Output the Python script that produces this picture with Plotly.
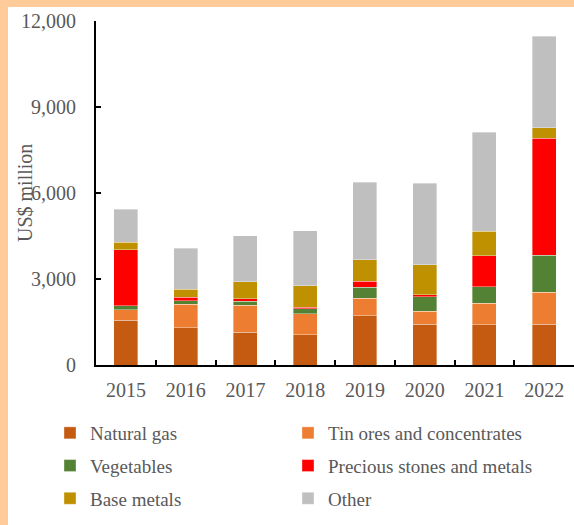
import plotly.graph_objects as go

years = ["2015", "2016", "2017", "2018", "2019", "2020", "2021", "2022"]
natural_gas = [1560, 1300, 1150, 1060, 1720, 1420, 1405, 1420]
tin_ores = [370, 815, 930, 720, 605, 455, 755, 1115]
vegetables = [140, 125, 140, 175, 395, 500, 570, 1290]
precious = [1950, 130, 90, 60, 210, 80, 1080, 4080]
base_metals = [270, 280, 595, 745, 745, 1035, 850, 370]
other = [1140, 1420, 1605, 1920, 2700, 2850, 3455, 3200]

series = [
    ("Natural gas", natural_gas, "#C55A11", "legend"),
    ("Tin ores and concentrates", tin_ores, "#ED7D31", "legend2"),
    ("Vegetables", vegetables, "#548235", "legend"),
    ("Precious stones and metals", precious, "#FF0000", "legend2"),
    ("Base metals", base_metals, "#BF9000", "legend"),
    ("Other", other, "#BFBFBF", "legend2"),
]

FONT = "Liberation Serif"
GREY = "#595959"

fig = go.Figure()
for i, (name, vals, color, lg) in enumerate(series):
    fig.add_trace(go.Bar(
        x=years, y=vals, name=name, legend=lg, legendgroup=f"g{i}",
        marker=dict(color=color, line=dict(color="rgba(255,255,255,0.6)", width=0.6)),
    ))

W, H = 574, 525
L, T, B = 96, 21, 160
pw = W - L
ph = H - T - B

def px2x(p):
    return (p - L) / pw

def py2y(p):
    return (H - B - p) / ph

border = "#FFCC99"
shapes = [
    dict(type="rect", xref="paper", yref="paper", x0=px2x(-2), x1=px2x(8),
         y0=py2y(H + 2), y1=py2y(-2), fillcolor=border, line=dict(width=0), layer="above"),
    dict(type="rect", xref="paper", yref="paper", x0=px2x(-2), x1=px2x(W + 2),
         y0=py2y(7), y1=py2y(-2), fillcolor=border, line=dict(width=0), layer="above"),
]

legend_common = dict(
    orientation="v", xref="container", yref="container", xanchor="left", yanchor="top",
    bgcolor="rgba(0,0,0,0)", tracegroupgap=5,
    font=dict(family=FONT, size=19, color=GREY), traceorder="grouped",
)

fig.update_layout(
    width=W, height=H,
    margin=dict(l=L, r=0, t=T, b=B, autoexpand=False),
    barmode="stack", bargap=0.6,
    paper_bgcolor="white", plot_bgcolor="rgba(0,0,0,0)",
    font=dict(family=FONT, size=20, color=GREY),
    shapes=shapes,
    legend=dict(legend_common, x=50 / W, y=1 - 414 / H),
    legend2=dict(legend_common, x=288 / W, y=1 - 414 / H),
    annotations=[dict(text="US$ million", textangle=-90, xref="paper", yref="paper",
                      x=px2x(25), y=py2y(193), xanchor="center", yanchor="middle",
                      showarrow=False,
                      font=dict(family=FONT, size=20, color=GREY))],
)

fig.update_xaxes(
    type="category", range=[-0.5, 7.5],
    showline=True, linecolor="black", linewidth=2,
    ticks="inside", tickson="boundaries", ticklen=5, tickwidth=2, tickcolor="black",
    ticklabelstandoff=6, showgrid=False, zeroline=False,
    tickfont=dict(family=FONT, size=20, color=GREY),
)
fig.update_yaxes(
    range=[0, 12000], tickvals=[0, 3000, 6000, 9000, 12000], tickformat=",",
    showline=True, linecolor="black", linewidth=2,
    ticks="inside", ticklen=5, tickwidth=2, tickcolor="black",
    ticklabelstandoff=14, showgrid=False, zeroline=False,
    tickfont=dict(family=FONT, size=20, color=GREY),
)

fig.write_html("out.html", config={"displayModeBar": False},
               post_script="document.body.style.margin='0px';")
